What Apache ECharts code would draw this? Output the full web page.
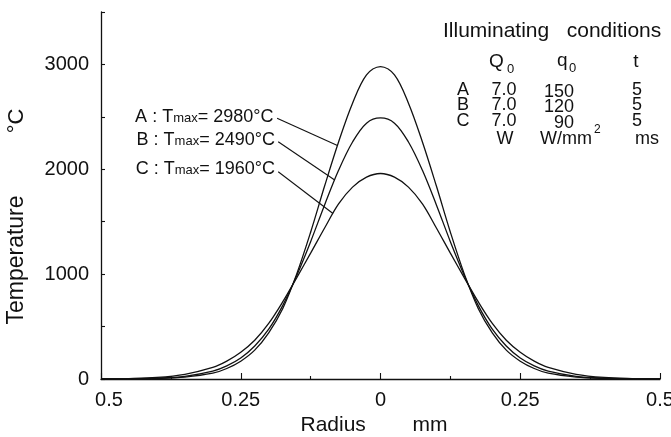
<!DOCTYPE html>
<html>
<head>
<meta charset="utf-8">
<title>Temperature distribution</title>
<script src="https://cdn.jsdelivr.net/npm/echarts@6/dist/echarts.min.js"></script>
<style>
  html, body { margin: 0; padding: 0; background: #fff; }
  #chart { width: 671px; height: 437px; }
</style>
</head>
<body>
<div id="chart"></div>
<script>
// Radial temperature profiles (°C) for three illuminating conditions, radius in mm
const radius = [-0.5, -0.45, -0.4, -0.35, -0.3, -0.275, -0.25, -0.225, -0.2, -0.175, -0.15, -0.125, -0.1, -0.075, -0.05, -0.025,
  0, 0.025, 0.05, 0.075, 0.1, 0.125, 0.15, 0.175, 0.2, 0.225, 0.25, 0.275, 0.3, 0.35, 0.4, 0.45, 0.5];
const tempA = [0, 1, 5, 18, 55, 100, 170, 275, 440, 670, 1000, 1400, 1840, 2260, 2630, 2900,
  2980, 2900, 2630, 2260, 1840, 1400, 1000, 670, 440, 275, 170, 100, 55, 18, 5, 1, 0];
const tempB = [0, 2, 8, 26, 75, 125, 200, 315, 475, 700, 985, 1310, 1660, 1990, 2260, 2440,
  2490, 2440, 2260, 1990, 1660, 1310, 985, 700, 475, 315, 200, 125, 75, 26, 8, 2, 0];
const tempC = [0, 4, 15, 45, 110, 170, 255, 370, 530, 735, 965, 1200, 1440, 1670, 1830, 1925,
  1960, 1925, 1830, 1670, 1440, 1200, 965, 735, 530, 370, 255, 170, 110, 45, 15, 4, 0];

const seriesNames = ['A', 'B', 'C'];
// where each leader line starts (next to its label) and the radius it points at
const leaderFrom = [[-0.185, 2486], [-0.183, 2262], [-0.183, 1977]];
const leaderToRadius = [-0.077, -0.082, -0.085];

const xTicks = [-0.5, -0.25, 0, 0.25, 0.5];
const yTicks = [0, 1000, 2000, 3000];

// Illuminating conditions table
const condHead = ['Q', 'q', 't'];
const condRows = [
  ['A', '7.0', '150', '5'],
  ['B', '7.0', '120', '5'],
  ['C', '7.0', '90', '5']
];
const condUnits = ['W', 'W/mm', 'ms'];

const FONT = '"Liberation Sans", Arial, Helvetica, sans-serif';
const INK = '#111';

function interp(xs, ys, x) {
  for (let i = 0; i < xs.length - 1; i++) {
    if (x >= xs[i] && x <= xs[i + 1]) {
      const t = (x - xs[i]) / (xs[i + 1] - xs[i]);
      return ys[i] + t * (ys[i + 1] - ys[i]);
    }
  }
  return 0;
}

const temps = [tempA, tempB, tempC];

function buildSeries(i) {
  const ys = temps[i];
  const peak = Math.max.apply(null, ys);
  const name = seriesNames[i];
  const toR = leaderToRadius[i];
  return {
    name: name,
    type: 'line',
    data: radius.map((r, k) => [r, ys[k]]),
    showSymbol: false,
    smooth: 0.35,
    lineStyle: { color: INK, width: 1.3 },
    silent: true,
    animation: false,
    markLine: {
      silent: true,
      animation: false,
      symbol: ['none', 'none'],
      lineStyle: { color: INK, width: 1.1, type: 'solid' },
      label: {
        show: true,
        position: 'start',
        align: 'right',
        verticalAlign: 'middle',
        distance: 4,
        formatter: '{n|' + name + ' : T}{s|max}{n|= ' + peak + '°C}',
        rich: {
          n: { fontSize: 18, fontFamily: FONT, color: INK, verticalAlign: 'bottom' },
          s: { fontSize: 13, fontFamily: FONT, color: INK, verticalAlign: 'bottom', padding: [0, 0, 1, 0] }
        }
      },
      data: [[
        { coord: leaderFrom[i] },
        { coord: [toR, interp(radius, ys, toR)] }
      ]]
    }
  };
}

function text(str, x, y, size, align, extra) {
  return Object.assign({
    type: 'text',
    x: x,
    y: y,
    silent: true,
    style: {
      text: str,
      font: size + 'px ' + FONT,
      fill: INK,
      align: align || 'left',
      verticalAlign: 'middle'
    }
  }, extra || {});
}

const rowY = [90, 105, 121];
const tableEls = [
  text('Illuminating   conditions', 443, 31, 21, 'left'),
  text(condHead[0], 489, 62, 19, 'left'),
  text('0', 507, 69, 13, 'left'),
  text(condHead[1], 557, 61, 19, 'left'),
  text('0', 569, 68, 13, 'left'),
  text(condHead[2], 636, 62, 19, 'center')
];
condRows.forEach((row, k) => {
  tableEls.push(text(row[0], 463, rowY[k], 18, 'center'));
  tableEls.push(text(row[1], 504, rowY[k], 18, 'center'));
  tableEls.push(text(row[2], 574, rowY[k] + 2, 18, 'right'));
  tableEls.push(text(row[3], 637, rowY[k], 18, 'center'));
});
tableEls.push(text(condUnits[0], 505, 139, 18, 'center'));
tableEls.push(text(condUnits[1], 540, 139, 18, 'left'));
tableEls.push(text('2', 594, 130, 12, 'left'));
tableEls.push(text(condUnits[2], 647, 139, 18, 'center'));

// vertical axis title, written bottom-to-top
tableEls.push(text('Temperature', 17, 260, 23, 'center', { rotation: Math.PI / 2 }));
tableEls.push(text('°C', 17, 121, 22, 'center', { rotation: Math.PI / 2 }));

const chart = echarts.init(document.getElementById('chart'), null, { renderer: 'canvas' });
chart.setOption({
  backgroundColor: '#fff',
  animation: false,
  grid: {
    left: 101, right: 11, top: 12, bottom: 58,
    containLabel: false,
    outerBoundsMode: 'none'
  },
  xAxis: {
    type: 'value',
    min: -0.5, max: 0.5, interval: 0.25,
    name: 'Radius        mm',
    nameLocation: 'middle',
    nameGap: 34,
    nameTextStyle: { fontSize: 21, fontFamily: FONT, color: INK, padding: [0, 13, 0, 0] },
    axisLine: { show: true, onZero: false, lineStyle: { color: INK, width: 1.3 } },
    axisTick: { show: true, inside: true, length: 6, lineStyle: { color: INK, width: 1.1 } },
    minorTick: { show: true, splitNumber: 2, length: 3, lineStyle: { color: INK, width: 1.1 } },
    splitLine: { show: false },
    minorSplitLine: { show: false },
    axisLabel: {
      customValues: xTicks,
      margin: 11,
      fontSize: 20, fontFamily: FONT, color: INK,
      formatter: function (v) {
        const s = String(Math.abs(v));
        return v === xTicks[0] ? '{m|' + s + '}' : s;
      },
      rich: {
        m: { fontSize: 20, fontFamily: FONT, color: INK, padding: [0, 0, 0, 16] }
      }
    }
  },
  yAxis: {
    type: 'value',
    min: 0, max: 3500, interval: 500,
    axisLine: { show: true, onZero: false, lineStyle: { color: INK, width: 1.3 } },
    axisTick: { show: true, inside: true, length: 4, lineStyle: { color: INK, width: 1.1 } },
    splitLine: { show: false },
    axisLabel: {
      customValues: yTicks,
      margin: 12,
      fontSize: 20, fontFamily: FONT, color: INK,
      formatter: function (v) { return String(v); }
    }
  },
  series: [buildSeries(0), buildSeries(1), buildSeries(2)],
  graphic: { elements: tableEls }
});
</script>
</body>
</html>
